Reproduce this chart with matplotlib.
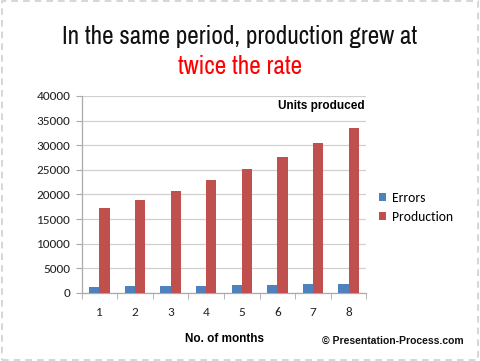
import matplotlib
matplotlib.use("Agg")
import matplotlib.pyplot as plt
from matplotlib.patches import Rectangle
import numpy as np
from matplotlib import font_manager as fm

months = [1, 2, 3, 4, 5, 6, 7, 8]
errors = [1300, 1350, 1450, 1500, 1600, 1650, 1750, 1850]
production = [17200, 18900, 20800, 22900, 25100, 27700, 30400, 33400]
yticks = [0, 5000, 10000, 15000, 20000, 25000, 30000, 35000, 40000]

names = {f.name for f in fm.fontManager.ttflist}


def pick(prefs, default="DejaVu Sans"):
    for p in prefs:
        if p in names:
            return p
    return default


title_font = pick(["Franklin Gothic Medium Cond", "Archivo Narrow", "Roboto Condensed",
                   "PT Sans Narrow", "Liberation Sans Narrow", "Oswald"])
body_font = pick(["Carlito", "Calibri", "Lato"])
arial_font = pick(["Liberation Sans", "Arimo", "Arial"])

fig = plt.figure(figsize=(4.8, 3.61), dpi=100)
fig.patch.set_facecolor("white")

# dashed border
fig.add_artist(Rectangle((0.004, 0.004), 0.992, 0.992, transform=fig.transFigure,
                         fill=False, edgecolor="#d0d0d0", linestyle=(0, (4, 3)), linewidth=1.2))

ax = fig.add_axes([0.170, 0.1884, 0.5935, 0.5457])
x = np.arange(len(months))
w = 0.286
ax.bar(x - w / 2, errors, width=w, color="#4F81BD", label="Errors", zorder=3)
ax.bar(x + w / 2, production, width=w, color="#C0504D", label="Production", zorder=3)

ax.set_xlim(-0.5, len(months) - 0.5)
ax.set_ylim(0, 40000)
ax.set_yticks(yticks)
ax.set_yticklabels([str(v) for v in yticks], fontsize=9.5, family=body_font, color="#222222")
ax.set_xticks(x)
ax.set_xticklabels([str(m) for m in months], fontsize=9.5, family=body_font, color="#222222")
ax.set_xticks(np.arange(len(months) + 1) - 0.5, minor=True)
ax.tick_params(axis="x", which="major", length=0, pad=10)
ax.tick_params(axis="x", which="minor", length=4, color="#aaaaaa")
ax.tick_params(axis="y", length=4, color="#aaaaaa", pad=4)
ax.grid(axis="y", color="#d0d0d0", linewidth=0.9, zorder=0)
for s in ["top", "right"]:
    ax.spines[s].set_visible(False)
for s in ["left", "bottom"]:
    ax.spines[s].set_color("#aaaaaa")
    ax.spines[s].set_linewidth(0.9)

ax.set_xlabel("No. of months", fontsize=8.5, fontweight="bold", family=arial_font, labelpad=11)

ax.text(0.995, 0.95, "Units produced", transform=ax.transAxes, ha="right", va="center",
        fontsize=8.5, fontweight="bold", family=arial_font)

leg = ax.legend(loc="center left", bbox_to_anchor=(1.0, 0.435), frameon=False,
                prop={"family": body_font, "size": 9.8}, handlelength=0.55, handleheight=0.55,
                handletextpad=0.4, labelspacing=0.55)

t1 = fig.text(0.5, 0.90, "In the same period, production grew at", ha="center", va="center",
              fontsize=17, family=title_font, fontweight="semibold", color="#111111")
t2 = fig.text(0.5, 0.815, "twice the rate", ha="center", va="center",
              fontsize=17, family=title_font, fontweight="semibold", color="#ff0000")
fig.text(0.965, 0.055, "© Presentation-Process.com", ha="right", va="center",
         fontsize=7.5, fontweight="bold", family=arial_font, color="#111111")

# match title width to the reference (~354 px)
fig.canvas.draw()
wpx = t1.get_window_extent().width
size = 17 * 354.0 / wpx
t1.set_fontsize(size)
t2.set_fontsize(size)

fig.savefig("out.png", dpi=100, facecolor="white")
